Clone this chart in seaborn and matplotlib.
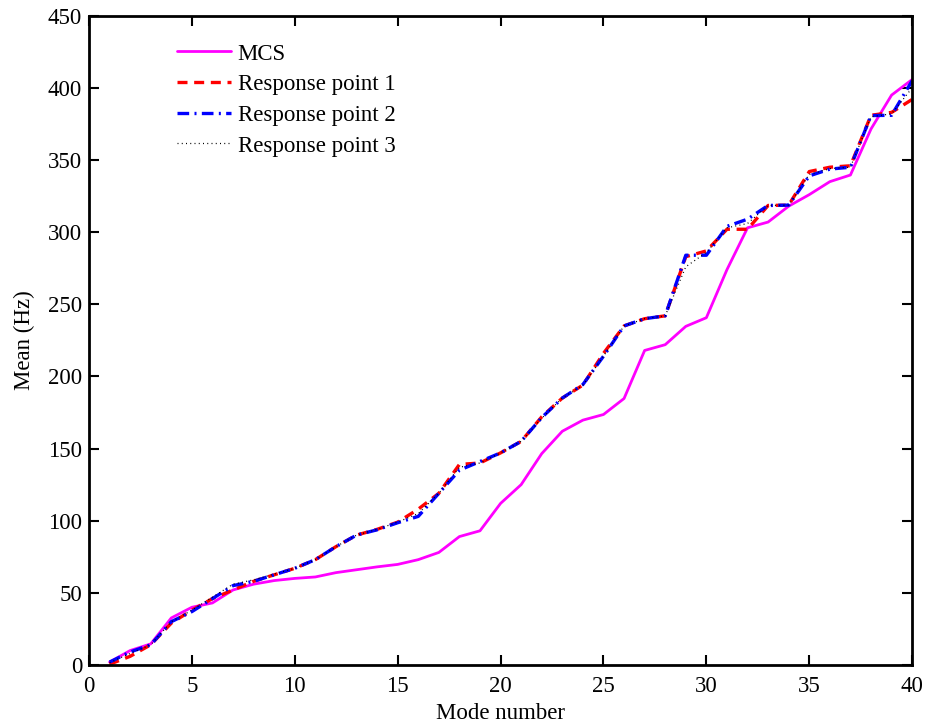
import numpy as np
import pandas as pd
import matplotlib
matplotlib.use("Agg")
import matplotlib.pyplot as plt
import seaborn as sns

# Mean natural frequency for each mode number
modes = list(range(1, 41))
mcs = [2, 10, 14.6, 32.6, 40, 43, 52, 56, 58.5, 60,
       61, 64, 66, 68, 69.7, 73, 78, 89, 93, 112,
       125, 146.5, 162, 169.7, 173.6, 184.7, 218, 222, 234.7, 240.7,
       274, 303, 307, 318, 326, 335, 339.6, 371.5, 395, 405.8]
resp1 = [0.5, 6, 14, 29, 38, 46, 52, 58, 62.5, 67,
         73, 82, 90, 94, 99, 108, 119, 139, 140, 147,
         155, 172, 185, 194, 216, 235, 240, 242, 283, 287,
         302, 302, 318.5, 318.7, 342, 345, 346, 381, 383, 392]
resp2 = [2, 9, 14, 30, 37, 46, 55, 58, 62.5, 67,
         73, 82, 90, 93.7, 98.6, 103, 119, 135, 141, 147,
         155, 171.5, 185, 194.4, 214, 235, 240, 242, 284, 284,
         304, 309, 318.5, 318.7, 339, 343.7, 345, 380.8, 381, 405]
resp3 = [1.5, 8, 14, 30, 38, 47, 56, 59, 63, 67,
         73, 82, 90, 94, 99, 105, 119, 137, 140, 147,
         155, 171, 185, 194, 214, 235, 240, 242, 276, 286,
         303, 306, 318.5, 318.7, 340, 344, 345, 380, 382, 400]

sns.set_theme(style="ticks")
plt.rcParams["font.family"] = ["Liberation Serif", "DejaVu Serif"]
plt.rcParams["text.color"] = "black"
plt.rcParams["axes.labelcolor"] = "black"

FS = 16.5

fig = plt.figure(figsize=(9.27, 7.25), dpi=100)
ax = fig.add_axes([0.096, 0.0828, 0.888, 0.8955])

sns.lineplot(x=modes, y=mcs, ax=ax, color="#ff00ff", linewidth=2.0,
             label="MCS")
sns.lineplot(x=modes, y=resp1, ax=ax, color="#ff0000", linewidth=2.4,
             linestyle=(0, (3, 2)), label="Response point 1")
sns.lineplot(x=modes, y=resp2, ax=ax, color="#0000ff", linewidth=2.4,
             linestyle=(0, (3.5, 1.6, 0.6, 1.6)), label="Response point 2")
sns.lineplot(x=modes, y=resp3, ax=ax, color="black", linewidth=0.9,
             linestyle=(0, (0.8, 2.6)), label="Response point 3")

ax.set_xlim(0, 40)
ax.set_ylim(0, 450)
ax.set_xticks(np.arange(0, 41, 5))
ax.set_yticks(np.arange(0, 451, 50))
ax.tick_params(direction="in", length=7, width=1.5, labelsize=FS,
               top=True, right=True, colors="black", labelcolor="black")
ax.tick_params(axis="x", pad=8)
ax.tick_params(axis="y", pad=5)
for s in ax.spines.values():
    s.set_linewidth(2.0)
    s.set_color("black")
    s.set_visible(True)

ax.set_xlabel("Mode number", fontsize=FS, labelpad=4)
ax.set_ylabel("Mean (Hz)", fontsize=FS, labelpad=9)

leg = ax.legend(loc="upper left", bbox_to_anchor=(0.088, 0.982), frameon=False,
                fontsize=FS, handlelength=2.35, handletextpad=0.28,
                labelspacing=0.42, borderaxespad=0.3)

fig.savefig("out.png", dpi=100)
